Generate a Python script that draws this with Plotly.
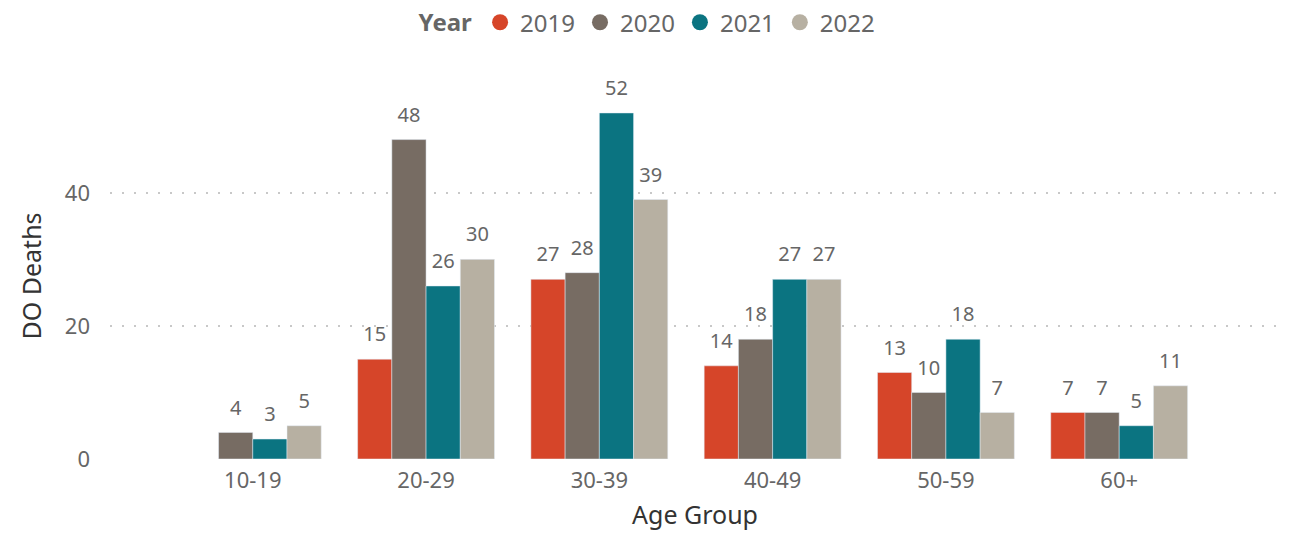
import plotly.graph_objects as go

age_groups = ["10-19", "20-29", "30-39", "40-49", "50-59", "60+"]
years = ["2019", "2020", "2021", "2022"]
deaths_2019 = [None, 15, 27, 14, 13, 7]
deaths_2020 = [4, 48, 28, 18, 10, 7]
deaths_2021 = [3, 26, 52, 27, 18, 5]
deaths_2022 = [5, 30, 39, 27, 7, 11]
series = [deaths_2019, deaths_2020, deaths_2021, deaths_2022]
colors = ["#D64529", "#776C63", "#0B7481", "#B7B0A2"]

FONT = "Segoe UI, Noto Sans, Open Sans, sans-serif"
LABEL = "#666666"

fig = go.Figure()
# bars
for yr, vals, col in zip(years, series, colors):
    fig.add_trace(go.Bar(
        x=age_groups, y=vals, name=yr, marker_color=col,
        offsetgroup=yr, showlegend=False, hoverinfo="x+y+name",
    ))
# data labels (grouped scatter text, aligned with the bars)
for yr, vals in zip(years, series):
    fig.add_trace(go.Scatter(
        x=age_groups, y=vals, mode="markers+text", offsetgroup=yr,
        text=[("" if v is None else str(v)) for v in vals],
        textposition="top center", cliponaxis=False,
        marker=dict(size=19, color="rgba(0,0,0,0)"),
        textfont=dict(size=20, color=LABEL, family=FONT),
        showlegend=False, hoverinfo="skip",
    ))
# legend entries (circles), on a hidden overlay axis so they do not take group slots
for yr, col in zip(years, colors):
    fig.add_trace(go.Scatter(
        x=[None], y=[None], mode="markers", name=yr, xaxis="x2",
        marker=dict(symbol="circle", size=20, color=col),
    ))

fig.update_layout(
    width=1276, height=523,
    margin=dict(l=102, r=4, t=85, b=72),
    paper_bgcolor="white", plot_bgcolor="white",
    barmode="group", bargap=0.21, bargroupgap=0,
    scattermode="group", scattergap=0.21,
    font=dict(family=FONT, color=LABEL),
    legend=dict(
        orientation="h", xref="container", x=0.502, xanchor="center",
        yref="container", y=0.972, yanchor="middle",
        title=dict(text="<b>Year</b>", font=dict(size=24, color=LABEL, family=FONT)),
        font=dict(size=24, color=LABEL, family=FONT),
        itemwidth=30, traceorder="normal", tracegroupgap=0,
    ),
    xaxis=dict(
        type="category", range=[-0.824, 5.928],
        showgrid=False, showline=False, ticks="",
        tickfont=dict(size=22, color=LABEL, family=FONT),
        ticklabelstandoff=6,
        title=dict(text="Age Group", font=dict(size=25, color="#333333", family=FONT), standoff=16),
    ),
    xaxis2=dict(overlaying="x", visible=False, range=[0, 1]),
    yaxis=dict(
        range=[0, 55], dtick=20, tick0=0,
        showgrid=True, gridcolor="#C8C8C8", gridwidth=1.5, griddash="2px,10px",
        zeroline=False, showline=False, ticks="",
        tickfont=dict(size=22, color=LABEL, family=FONT),
        ticklabelstandoff=19,
        title=dict(text="DO Deaths", font=dict(size=25, color="#333333", family=FONT), standoff=16),
    ),
)

fig.write_html("out.html")
